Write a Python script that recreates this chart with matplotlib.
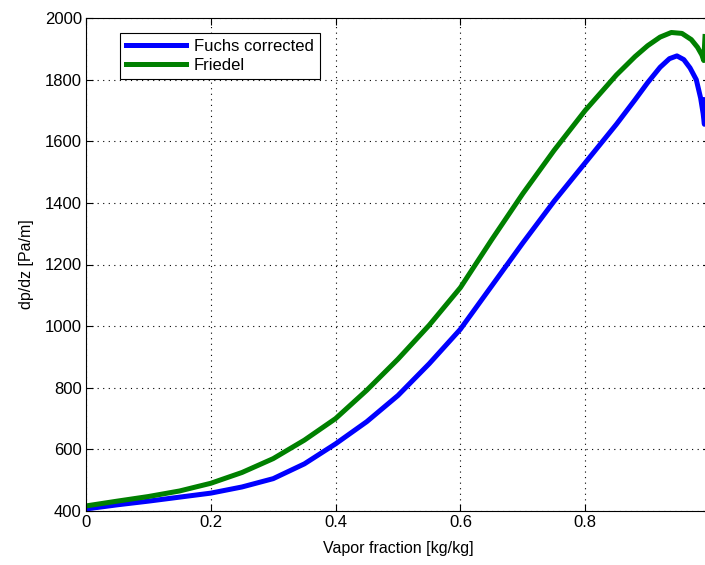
import numpy as np
import matplotlib
matplotlib.use("Agg")
import matplotlib.pyplot as plt

plt.rcParams['font.family'] = ['Liberation Sans', 'DejaVu Sans']

# pressure gradient along the tube vs. vapor quality
x_fuchs = [0.005, 0.05, 0.1, 0.15, 0.2, 0.25, 0.3, 0.35, 0.4, 0.45, 0.5, 0.55,
           0.6, 0.65, 0.7, 0.75, 0.8, 0.85, 0.88, 0.9, 0.92, 0.935, 0.947,
           0.958, 0.968, 0.978, 0.985, 0.989, 0.991, 0.992]
dp_fuchs = [408, 420, 432, 445, 458, 478, 505, 553, 618, 690, 775, 878,
            990, 1130, 1270, 1405, 1530, 1655, 1735, 1790, 1840, 1868, 1877,
            1865, 1838, 1800, 1740, 1690, 1655, 1735]

x_friedel = [0.005, 0.05, 0.1, 0.15, 0.2, 0.25, 0.3, 0.35, 0.4, 0.45, 0.5,
             0.55, 0.6, 0.65, 0.7, 0.75, 0.8, 0.85, 0.88, 0.9, 0.92, 0.938,
             0.955, 0.97, 0.98, 0.987, 0.99, 0.992]
dp_friedel = [418, 432, 447, 465, 490, 525, 570, 630, 700, 792, 893,
              1003, 1125, 1280, 1430, 1570, 1700, 1815, 1875, 1910, 1938, 1953,
              1950, 1930, 1905, 1880, 1862, 1940]

xticks = [0, 0.2, 0.4, 0.6, 0.8, 1.0]
xticklabels = ['0', '0.2', '0.4', '0.6', '0.8', '']
yticks = [400, 600, 800, 1000, 1200, 1400, 1600, 1800, 2000]

fig = plt.figure(figsize=(7.05, 5.65), dpi=100)
ax = fig.add_axes([86 / 705, 54 / 565, 624 / 705, 493 / 565])

ax.plot(x_fuchs, dp_fuchs, color='#0000ff', lw=3.6, label='Fuchs corrected',
        solid_joinstyle='round')
ax.plot(x_friedel, dp_friedel, color='#008000', lw=3.6, label='Friedel',
        solid_joinstyle='round')

ax.set_xlim(0, 1)
ax.set_ylim(400, 2000)
ax.set_xticks(xticks)
ax.set_xticklabels(xticklabels)
ax.set_yticks(yticks)
ax.tick_params(direction='in', length=5, width=0.8, top=True, right=True,
               labelsize=12, pad=3)
ax.grid(True, color='black', linestyle=(0, (1, 4)), linewidth=0.8)
for s in ax.spines.values():
    s.set_linewidth(0.8)

ax.set_xlabel('Vapor fraction [kg/kg]', fontsize=11.5, labelpad=8)
ax.set_ylabel('dp/dz [Pa/m]', fontsize=11.5, labelpad=8)

leg = ax.legend(loc='upper left', bbox_to_anchor=(0.054, 0.97), fontsize=12,
                fancybox=False, edgecolor='black', framealpha=1,
                handlelength=3.6, borderpad=0.35, labelspacing=0.25,
                handletextpad=0.5, borderaxespad=0)
leg.get_frame().set_linewidth(0.8)

fig.savefig('out.png', dpi=100)
